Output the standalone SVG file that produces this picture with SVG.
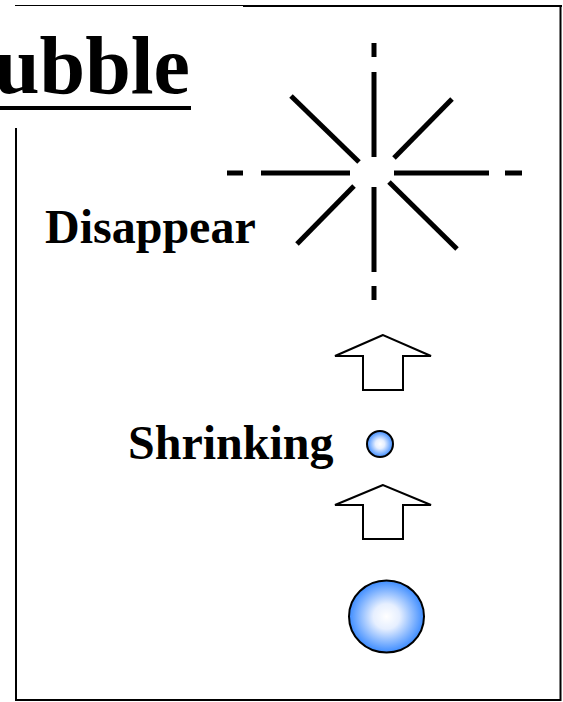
<svg xmlns="http://www.w3.org/2000/svg" width="563" height="702" viewBox="0 0 563 702">
<defs>
<radialGradient id="bub" cx="50%" cy="50%" r="50%">
<stop offset="0" stop-color="#ffffff"/>
<stop offset="0.35" stop-color="#e6efff"/>
<stop offset="1" stop-color="#3d8cff"/>
</radialGradient>
<style>
.lbl{font-family:"Liberation Serif","Times New Roman",serif;font-weight:bold;fill:#000}
.ray{stroke:#000;stroke-width:5;fill:none}
.arr{fill:#fff;stroke:#000;stroke-width:2;stroke-linejoin:miter}
.bubble{fill:url(#bub);stroke:#000;stroke-width:2}
.frame{stroke:#000;fill:none}
</style>
</defs>
<rect width="563" height="702" fill="#fff"/>
<g id="frame">
<line class="frame" x1="15" y1="5.5" x2="243" y2="5.5" stroke-width="1"/>
<line class="frame" x1="243" y1="6" x2="562" y2="6" stroke-width="2"/>
<line class="frame" x1="560.5" y1="5" x2="560.5" y2="701" stroke-width="2"/>
<line class="frame" x1="15" y1="700" x2="561" y2="700" stroke-width="2"/>
<line class="frame" x1="16" y1="128" x2="16" y2="701" stroke-width="2"/>
</g>
<g id="title">
<text class="lbl" x="-6" y="93" font-size="82">ubble</text>
<rect x="0" y="106" width="191" height="4" fill="#000"/>
</g>
<g id="disappear">
<text class="lbl" x="45" y="243" font-size="48">Disappear</text>
<g id="star">
<line class="ray" x1="374" y1="43" x2="374" y2="57"/>
<line class="ray" x1="374" y1="72" x2="374" y2="157"/>
<line class="ray" x1="374" y1="187" x2="374" y2="272"/>
<line class="ray" x1="374" y1="286" x2="374" y2="300"/>
<line class="ray" x1="227" y1="173" x2="243" y2="173"/>
<line class="ray" x1="261" y1="173" x2="350" y2="173"/>
<line class="ray" x1="394" y1="173" x2="489" y2="173"/>
<line class="ray" x1="505" y1="173" x2="522" y2="173"/>
<line class="ray" x1="291" y1="96" x2="359" y2="162"/>
<line class="ray" x1="452" y1="99" x2="394" y2="158"/>
<line class="ray" x1="354" y1="186" x2="297" y2="244"/>
<line class="ray" x1="389" y1="182" x2="457" y2="249"/>
</g>
</g>
<g id="shrinking">
<text class="lbl" x="128" y="459" font-size="48">Shrinking</text>
<ellipse class="bubble" cx="380" cy="444" rx="13" ry="13"/>
</g>
<g id="bubble">
<ellipse class="bubble" cx="386.5" cy="616.5" rx="37.5" ry="36"/>
</g>
<g id="connectors">
<polygon class="arr" points="383,335 335,356 363,356 363,390 403,390 403,356 431,356"/>
<polygon class="arr" points="383,485 335,505 363,505 363,539 403,539 403,505 431,505"/>
</g>
</svg>
